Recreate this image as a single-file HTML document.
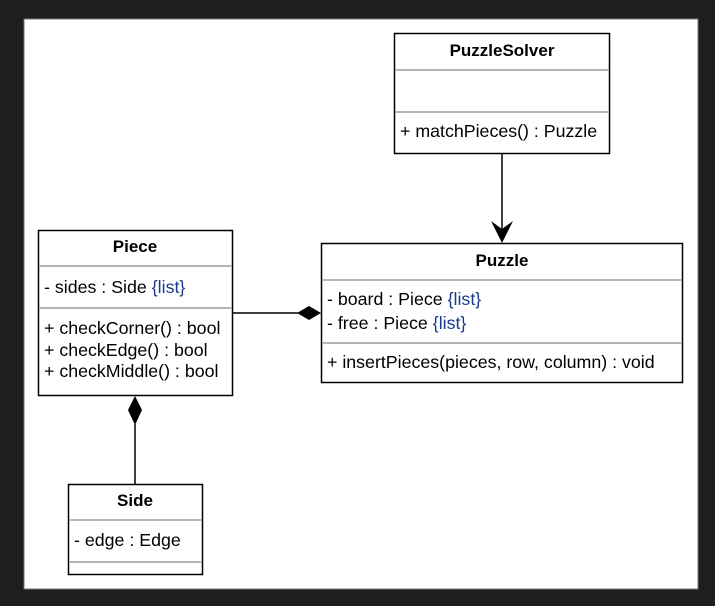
<!DOCTYPE html>
<html><head><style>
body{margin:0;width:715px;height:606px;background:#1e1e1e;overflow:hidden;font-family:"Liberation Sans",Arial,sans-serif;}
</style></head><body>
<svg width="715" height="606" xmlns="http://www.w3.org/2000/svg" font-family="Liberation Sans, Arial, sans-serif" font-size="17.8" style="display:block">
<rect x="24" y="19" width="674" height="570" fill="#fff" stroke="#777" stroke-width="1"/>
<g fill="#fff" stroke="#000" stroke-width="1.5">
<rect x="394.5" y="33.5" width="215" height="120"/>
<rect x="321.5" y="243.5" width="361" height="139"/>
<rect x="38.5" y="230.5" width="194" height="165"/>
<rect x="68.5" y="484.5" width="134" height="90"/>
</g>
<g stroke="#b5b5b5" stroke-width="2">
<line x1="395" y1="70" x2="609" y2="70"/><line x1="395" y1="112" x2="609" y2="112"/>
<line x1="322" y1="280" x2="682" y2="280"/><line x1="322" y1="343" x2="682" y2="343"/>
<line x1="39" y1="266" x2="232" y2="266"/><line x1="39" y1="308" x2="232" y2="308"/>
<line x1="69" y1="520" x2="202" y2="520"/><line x1="69" y1="562" x2="202" y2="562"/>
</g>
<g stroke="#000" stroke-width="1.5" fill="none">
<line x1="502" y1="154" x2="502" y2="232"/>
<line x1="233" y1="313" x2="298" y2="313"/>
<line x1="135" y1="424" x2="135" y2="484"/>
</g>
<path d="M502 243 L491 221 L502 229 L513 221 Z" fill="#000"/>
<path d="M321 313 L309 306 L297 313 L309 320 Z" fill="#000"/>
<path d="M135 396 L142 410 L135 425 L128 410 Z" fill="#000"/>
<g font-weight="bold" text-anchor="middle" font-size="17">
<text x="502" y="56">PuzzleSolver</text>
<text x="502" y="266">Puzzle</text>
<text x="135" y="252">Piece</text>
<text x="135" y="506">Side</text>
</g>
<g fill="#000">
<text x="400" y="137">+ matchPieces() : Puzzle</text>
<text x="327" y="305">- board : Piece <tspan fill="#1a3a8c">{list}</tspan></text>
<text x="327" y="329">- free : Piece <tspan fill="#1a3a8c">{list}</tspan></text>
<text x="327" y="368">+ insertPieces(pieces, row, column) : void</text>
<text x="44" y="293">- sides : Side <tspan fill="#1a3a8c">{list}</tspan></text>
<text x="44" y="334">+ checkCorner() : bool</text>
<text x="44" y="356">+ checkEdge() : bool</text>
<text x="44" y="377">+ checkMiddle() : bool</text>
<text x="74" y="546">- edge : Edge</text>
</g>
</svg>
</body></html>
